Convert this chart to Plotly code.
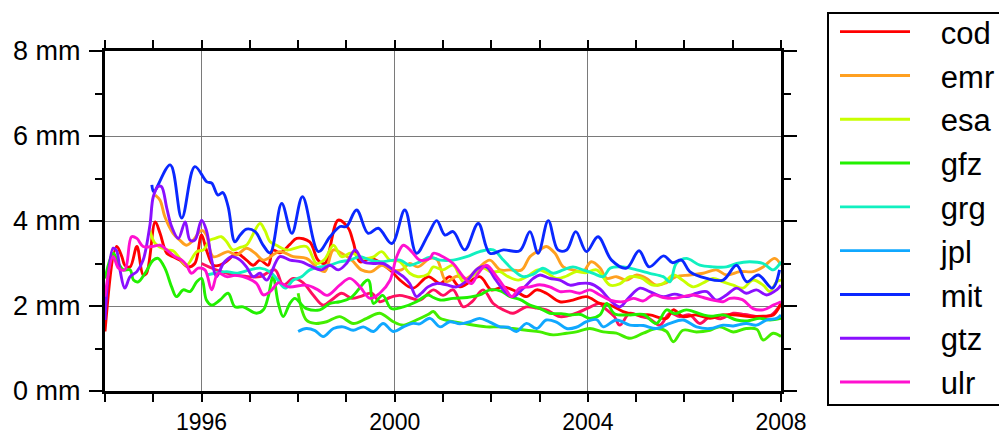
import plotly.graph_objects as go

# ---- data (decimal year, mm) ----
t_cod = [1994.00,1994.24,1994.35,1994.41,1994.52,1994.66,1994.79,1994.86,1995.04,1995.14,1995.28,1995.41,1995.55,1995.72,1995.86,1996.00,1996.10,1996.24,1996.38,1996.55,1996.72,1996.93,1997.07,1997.21,1997.38,1997.48,1997.62,1997.83,1997.97,1998.24,1998.41,1998.55,1998.83,1999.04,1999.14,1999.28,1999.52,1999.90,2000.11,2000.38,2000.69,2000.94,2001.14,2001.35,2001.76,2002.00,2002.25,2002.52,2002.73,2002.94,2003.14,2003.42,2003.69,2003.97,2004.25,2004.46,2004.73,2005.01,2005.28,2005.63,2005.77,2005.97,2006.25,2006.53,2006.80,2007.08,2007.35,2007.63,2007.84,2008.00]
v_cod = [1.40,3.40,3.16,2.96,2.92,3.40,2.73,2.77,3.98,3.71,3.24,3.16,3.08,2.92,3.00,3.67,3.32,2.96,2.96,3.08,3.24,3.08,2.96,3.08,2.96,3.32,3.25,3.45,3.59,3.51,3.08,3.00,4.02,3.83,3.51,3.04,3.12,2.85,2.61,2.42,2.69,2.53,2.69,2.45,2.69,2.38,2.45,2.34,2.22,2.38,2.30,2.10,2.14,2.22,2.06,2.02,1.87,1.79,1.79,1.71,1.91,1.75,1.79,1.71,1.79,1.79,1.75,1.76,1.79,2.06]

t_emr = [1995.04,1995.14,1995.24,1995.41,1995.55,1995.69,1995.83,1996.00,1996.10,1996.24,1996.55,1996.72,1996.93,1997.11,1997.28,1997.62,1997.90,1998.17,1998.38,1998.55,1998.73,1998.90,1999.11,1999.31,1999.52,1999.73,1999.93,2000.14,2000.31,2000.48,2000.73,2000.87,2001.07,2001.28,2001.49,2001.73,2001.97,2002.18,2002.39,2002.63,2002.80,2003.01,2003.14,2003.32,2003.49,2003.69,2003.90,2004.07,2004.25,2004.39,2004.59,2004.80,2005.01,2005.21,2005.42,2005.63,2005.83,2006.11,2006.39,2006.66,2006.87,2007.15,2007.42,2007.63,2007.87,2008.00]
v_emr = [4.61,4.49,4.10,3.71,3.55,3.43,3.55,3.78,3.67,3.16,3.28,3.20,3.36,3.24,3.08,3.28,3.16,3.12,2.92,2.81,3.32,3.24,3.08,2.85,2.81,2.96,2.85,2.85,3.00,2.92,3.12,3.10,2.57,2.70,2.65,2.89,3.08,2.85,2.85,2.85,3.16,3.32,3.40,3.24,2.92,2.85,2.81,3.04,2.90,2.65,2.69,2.61,2.73,2.65,2.49,2.55,2.69,2.73,2.77,2.85,2.73,2.81,2.81,2.92,3.12,2.96]

t_esa = [1994.93,1995.04,1995.28,1995.41,1995.55,1995.69,1995.90,1996.04,1996.17,1996.28,1996.41,1996.52,1996.65,1996.80,1996.93,1997.21,1997.31,1997.42,1997.55,1997.76,1998.17,1998.38,1998.55,1998.73,1998.90,1999.10,1999.35,1999.55,1999.73,1999.90,2000.10,2000.31,2000.48,2000.69,2000.80,2001.00,2001.21,2001.42,2001.60,2001.83,2002.00,2002.18,2002.35,2002.56,2002.75,2002.97,2003.15,2003.35,2003.55,2003.76,2003.95,2004.18,2004.46,2004.66,2004.87,2005.10,2005.35,2005.56,2005.77,2005.95,2006.18,2006.40,2006.59,2006.80,2007.01,2007.21,2007.42,2007.63,2007.77,2007.91,2008.00]
v_esa = [3.78,3.47,3.32,3.30,3.12,2.96,3.28,3.32,3.55,3.59,3.63,3.51,3.32,3.38,3.43,3.94,3.78,3.51,3.43,3.32,3.40,3.00,3.10,3.43,3.16,3.25,3.12,3.15,3.28,3.08,3.05,2.77,2.69,2.75,2.92,2.85,2.96,2.57,2.70,2.89,2.80,2.81,2.69,2.61,2.70,2.85,2.78,2.65,2.70,2.81,2.78,2.85,2.49,2.52,2.69,2.66,2.49,2.53,2.73,2.62,2.45,2.55,2.65,2.57,2.49,2.42,2.61,2.49,2.34,2.57,2.61]

t_gfz = [1994.00,1994.17,1994.28,1994.38,1994.52,1994.59,1994.69,1994.83,1995.00,1995.10,1995.24,1995.38,1995.48,1995.62,1995.76,1995.90,1996.00,1996.10,1996.21,1996.38,1996.55,1996.69,1996.86,1997.14,1997.28,1997.38,1997.48,1997.59,1997.69,1997.83,1997.93,1998.10,1998.17,1998.45,1998.66,1998.86,1999.10,1999.45,1999.56,1999.75,1999.93,2000.18,2000.45,2000.69,2000.80,2000.94,2001.21,2001.50,2001.76,2001.97,2002.20,2002.39,2002.60,2002.80,2003.01,2003.21,2003.45,2003.63,2003.85,2004.04,2004.25,2004.39,2004.55,2004.87,2005.15,2005.42,2005.63,2005.80,2006.04,2006.39,2006.55,2006.80,2007.08,2007.30,2007.56,2007.77,2008.00]
v_gfz = [2.65,3.24,3.00,2.85,2.85,2.61,2.57,2.77,3.08,3.12,2.89,2.45,2.22,2.38,2.34,2.57,2.65,2.14,2.02,2.14,2.30,1.98,1.98,1.83,1.91,2.22,2.69,2.06,1.75,2.06,2.18,2.00,1.94,1.91,2.06,2.10,2.20,2.61,2.06,2.25,1.94,1.98,2.10,2.26,2.20,2.14,2.18,2.20,2.26,2.38,2.35,2.22,2.15,2.02,1.94,1.83,1.82,1.79,1.80,1.71,1.79,2.06,1.82,1.79,1.80,1.59,1.91,1.82,1.91,1.79,1.76,1.79,1.67,1.65,1.71,1.67,1.71]

t_gfz_b = [1998.00,1998.17,1998.35,1998.59,1998.86,1999.14,1999.42,1999.69,1999.97,2000.18,2000.45,2000.69,2000.80,2000.94,2001.21,2001.42,2001.90,2002.18,2002.45,2002.73,2003.01,2003.28,2003.56,2003.76,2004.04,2004.32,2004.59,2004.87,2005.15,2005.42,2005.63,2005.77,2005.97,2006.25,2006.53,2006.73,2007.01,2007.28,2007.50,2007.63,2007.84,2008.00]
v_gfz_b = [2.30,1.67,1.59,1.63,1.75,1.59,1.71,1.83,1.63,1.55,1.67,1.80,1.87,1.71,1.63,1.59,1.51,1.51,1.47,1.43,1.39,1.32,1.36,1.39,1.47,1.39,1.36,1.24,1.36,1.47,1.40,1.16,1.43,1.39,1.43,1.51,1.39,1.47,1.45,1.20,1.36,1.28]

t_grg = [1996.10,1996.28,1996.52,1996.72,1997.00,1997.21,1997.42,1997.55,1997.73,1997.90,1998.07,1998.24,1998.45,1998.66,1998.86,1999.07,1999.28,1999.49,1999.69,2000.11,2000.31,2000.52,2000.73,2000.94,2001.21,2001.49,2001.76,2002.04,2002.25,2002.45,2002.66,2002.87,2003.07,2003.28,2003.49,2003.69,2003.90,2004.11,2004.32,2004.46,2004.73,2005.01,2005.28,2005.56,2005.70,2005.83,2006.04,2006.32,2006.59,2006.87,2007.08,2007.35,2007.63,2007.84,2008.00]
v_grg = [2.73,2.77,2.81,2.77,2.85,2.89,2.80,2.65,2.42,2.61,2.69,2.85,2.92,2.96,3.04,3.08,3.16,3.08,3.04,3.08,2.96,3.04,3.15,3.08,3.08,3.16,3.28,3.32,3.08,2.85,2.69,2.75,2.89,2.77,2.85,2.92,2.85,2.77,2.69,2.89,2.92,2.85,2.77,2.69,2.57,3.00,3.12,2.96,2.92,2.92,3.00,3.04,3.00,2.85,3.04]

t_jpl = [1998.00,1998.17,1998.35,1998.52,1998.73,1998.93,1999.14,1999.35,1999.56,1999.76,1999.97,2000.18,2000.38,2000.52,2000.73,2000.94,2001.14,2001.35,2001.56,2001.76,2001.97,2002.18,2002.35,2002.52,2002.73,2002.94,2003.14,2003.35,2003.56,2003.76,2003.97,2004.18,2004.32,2004.59,2004.87,2005.15,2005.42,2005.70,2005.97,2006.25,2006.53,2006.80,2007.01,2007.28,2007.49,2007.70,2007.91,2008.00]
v_jpl = [1.40,1.47,1.42,1.28,1.47,1.51,1.43,1.51,1.40,1.59,1.40,1.51,1.59,1.58,1.71,1.51,1.63,1.58,1.63,1.71,1.62,1.51,1.50,1.40,1.59,1.47,1.67,1.62,1.47,1.50,1.63,1.68,1.51,1.67,1.55,1.54,1.47,1.59,1.67,1.51,1.47,1.55,1.53,1.59,1.55,1.67,1.71,1.79]

t_mit = [1994.97,1995.01,1995.35,1995.59,1995.86,1996.11,1996.21,1996.34,1996.44,1996.55,1996.69,1996.80,1996.93,1997.11,1997.27,1997.42,1997.66,1997.87,1998.09,1998.42,1998.66,1998.87,1999.00,1999.21,1999.45,1999.66,1999.94,2000.21,2000.45,2000.69,2000.87,2001.04,2001.21,2001.45,2001.73,2001.97,2002.25,2002.59,2002.80,2002.97,2003.18,2003.38,2003.56,2003.75,2003.97,2004.21,2004.49,2004.80,2005.06,2005.27,2005.57,2005.75,2005.94,2006.11,2006.46,2006.80,2007.08,2007.29,2007.53,2007.82,2007.97]
v_mit = [4.85,4.69,5.32,4.07,5.28,4.92,4.89,4.61,4.67,4.34,3.51,3.67,3.81,3.75,3.44,3.25,4.41,3.71,4.57,3.28,3.63,3.87,3.87,4.26,3.71,3.83,3.47,4.26,3.24,3.67,4.01,3.67,3.75,3.32,3.94,3.24,3.32,3.30,3.75,3.24,4.01,3.32,3.32,3.75,3.28,3.63,3.08,2.89,3.30,2.92,3.18,3.02,3.08,2.81,2.65,2.61,2.96,2.57,2.73,2.42,2.85]

t_gtz = [1994.00,1994.17,1994.24,1994.31,1994.41,1994.52,1994.66,1994.79,1994.93,1995.00,1995.10,1995.17,1995.28,1995.38,1995.52,1995.66,1995.76,1995.86,1996.00,1996.10,1996.21,1996.31,1996.45,1996.62,1996.80,1996.93,1997.07,1997.21,1997.35,1997.62,1997.83,1998.07,1998.24,1998.48,1998.66,1998.83,1999.00,1999.18,1999.35,1999.56,1999.76,1999.97,2000.18,2000.31,2000.45,2000.55,2000.69,2000.87,2001.07,2001.28,2001.50,2001.73,2001.90,2002.07,2002.28,2002.45,2002.65,2002.87,2003.01,2003.21,2003.42,2003.63,2003.83,2004.04,2004.25,2004.46,2004.66,2004.85,2005.08,2005.28,2005.56,2005.80,2006.04,2006.25,2006.46,2006.66,2006.87,2007.08,2007.28,2007.49,2007.70,2007.91,2008.00]
v_gtz = [1.67,3.36,3.30,2.85,2.42,2.69,2.81,3.08,3.90,4.57,4.81,4.81,4.30,3.87,3.59,3.98,3.55,3.55,4.02,3.78,3.08,2.69,3.00,3.16,3.08,2.92,2.69,2.77,2.61,3.16,3.08,3.04,2.95,2.85,2.96,2.85,3.00,3.32,3.04,3.00,3.00,2.85,2.69,2.53,2.22,2.30,2.45,2.53,2.50,2.45,2.60,2.89,2.92,2.65,2.34,2.22,2.40,2.65,2.73,2.65,2.61,2.49,2.53,2.53,2.40,2.14,1.98,2.20,2.42,2.34,2.22,2.28,2.22,2.30,2.34,2.14,2.26,2.42,2.30,2.38,2.26,2.38,2.49]

t_ulr = [1994.00,1994.17,1994.28,1994.41,1994.55,1994.66,1994.79,1994.97,1995.14,1995.28,1995.45,1995.59,1995.69,1995.79,1995.93,1996.07,1996.21,1996.34,1996.52,1996.70,1996.96,1997.14,1997.28,1997.42,1997.60,1997.80,1998.17,1998.41,1998.60,1998.86,1999.07,1999.28,1999.49,1999.69,1999.90,2000.04,2000.18,2000.35,2000.52,2000.73,2000.80,2001.00,2001.21,2001.42,2001.59,2001.73,2001.90,2002.11,2002.31,2002.42,2002.59,2002.80,2003.00,2003.21,2003.42,2003.63,2003.83,2004.04,2004.25,2004.46,2004.73,2004.94,2005.15,2005.35,2005.56,2005.77,2005.97,2006.18,2006.39,2006.59,2006.80,2006.94,2007.20,2007.42,2007.63,2007.84,2008.00]
v_ulr = [2.22,3.16,2.89,2.85,3.63,3.59,3.40,3.40,3.43,3.32,3.16,3.08,2.96,2.77,2.89,2.85,2.38,2.77,2.69,2.72,2.65,2.53,2.26,2.34,2.55,2.45,2.49,2.38,2.25,2.49,2.65,2.45,2.18,2.30,2.60,3.16,3.43,3.28,3.08,3.12,3.24,3.16,3.00,2.69,2.53,2.77,2.96,2.69,2.38,2.22,2.42,2.45,2.50,2.45,2.34,2.35,2.30,2.38,2.26,2.14,2.10,2.18,2.12,2.26,2.20,2.18,2.22,2.26,2.20,2.14,2.10,2.18,2.15,1.94,1.91,2.02,2.10]

t_ulr_b = [1996.00,1996.30,1996.60,1996.90,1997.21,1997.52,1997.69,1997.90,1998.10,1998.31,1998.52,1998.69,1998.90,1999.11,1999.28,1999.52,1999.69,1999.90,2000.10,2000.30,2000.52,2000.80,2001.00,2001.21,2001.42,2001.60,2001.83,2002.04,2002.25,2002.45,2002.73,2002.95,2003.14,2003.42,2003.76,2004.00,2004.25,2004.32,2004.55,2004.66,2004.87,2005.10,2005.28,2005.49,2005.70,2005.90,2006.11,2006.32,2006.53,2006.75,2007.01,2007.25,2007.56,2007.80,2008.00]
v_ulr_b = [3.00,2.85,2.75,2.70,2.69,2.85,2.49,2.65,2.55,2.26,2.02,2.14,2.30,2.18,2.22,2.30,2.10,2.20,2.25,2.20,2.14,2.38,2.25,2.38,1.98,2.10,2.38,2.06,1.91,1.83,1.98,1.95,1.91,1.75,1.83,1.95,2.06,1.98,1.75,1.55,1.83,1.75,1.70,1.55,1.83,1.75,1.79,1.59,1.75,1.70,1.83,1.80,1.75,1.79,2.06]

# (name, times, values, colour, in legend)
series = [
    ("gfz2", t_gfz_b, v_gfz_b, "#44ee00", False),
    ("ulr2", t_ulr_b, v_ulr_b, "#ff1060", False),
    ("cod", t_cod, v_cod, "#ff0000", True),
    ("emr", t_emr, v_emr, "#ffa020", True),
    ("esa", t_esa, v_esa, "#c8ff00", True),
    ("gfz", t_gfz, v_gfz, "#22f000", True),
    ("grg", t_grg, v_grg, "#10f0c0", True),
    ("jpl", t_jpl, v_jpl, "#10a8ff", True),
    ("mit", t_mit, v_mit, "#0a28ff", True),
    ("gtz", t_gtz, v_gtz, "#8a10ff", True),
    ("ulr", t_ulr, v_ulr, "#ff10d0", True),
]

x_ticks = [1996, 2000, 2004, 2008]
y_ticks = [0, 2, 4, 6, 8]

PAD = "\u00a0" * 3

fig = go.Figure()
for name, t, v, col, leg in series:
    fig.add_trace(go.Scatter(
        x=t, y=v, mode="lines", name=PAD + name, showlegend=leg, legendgroup=name,
        line=dict(color=col, width=2.9, shape="spline", smoothing=1.0),
        hoverinfo="skip",
    ))

# legend frame (drawn as a shape so its position is independent of the entries)
fig.add_shape(type="rect", xref="paper", yref="paper",
              x0=(828 - 105) / 676, x1=1.40, y0=(391 - 405) / 340, y1=(391 - 13) / 340,
              line=dict(color="black", width=2), fillcolor="rgba(0,0,0,0)", layer="above")

axis_font = dict(family="Liberation Sans, Arial, sans-serif", size=27, color="black")
fig.update_layout(
    width=999, height=437,
    margin=dict(l=105, r=218, t=51, b=46, autoexpand=False),
    paper_bgcolor="white", plot_bgcolor="white",
    showlegend=True,
    legend=dict(
        x=(835 - 105) / 676, y=(391 - 5) / 340, xanchor="left", yanchor="top",
        bgcolor="rgba(0,0,0,0)", borderwidth=0,
        font=dict(family="Liberation Sans, Arial, sans-serif", size=31, color="black"),
        itemwidth=70, tracegroupgap=0.5, traceorder="grouped", maxheight=600,
    ),
    xaxis=dict(
        range=[1994, 2008], tickmode="array", tickvals=x_ticks,
        ticktext=[str(v) for v in x_ticks],
        showline=True, linewidth=3, linecolor="black", mirror="allticks",
        ticks="outside", ticklen=8, tickwidth=1.5, tickcolor="black",
        showgrid=True, gridcolor="#7a7a7a", gridwidth=1.2, zeroline=False,
        tickfont=dict(family="Liberation Sans, Arial, sans-serif", size=23, color="black"),
        ticklabelstandoff=0,
        minor=dict(tickmode="linear", tick0=1994, dtick=1, ticklen=8, tickwidth=1.5,
                   tickcolor="black", ticks="outside", showgrid=False),
    ),
    yaxis=dict(
        range=[0, 8], tickmode="array", tickvals=y_ticks,
        ticktext=[f"{v} mm" for v in y_ticks],
        showline=True, linewidth=3, linecolor="black", mirror="allticks",
        ticks="outside", ticklen=13, tickwidth=1.5, tickcolor="black",
        showgrid=True, gridcolor="#7a7a7a", gridwidth=1.2, zeroline=False,
        tickfont=axis_font, ticklabelstandoff=3,
        minor=dict(tickmode="linear", tick0=1, dtick=2, ticklen=7, tickwidth=1.5,
                   tickcolor="black", ticks="outside", showgrid=False),
    ),
)

fig.write_html("out.html")
